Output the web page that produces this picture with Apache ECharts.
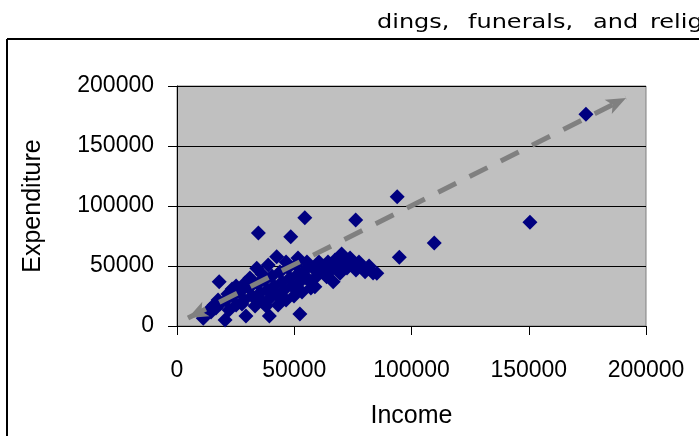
<!DOCTYPE html>
<html>
<head>
<meta charset="utf-8">
<script src="https://cdn.jsdelivr.net/npm/echarts@6/dist/echarts.min.js"></script>
<style>
  html, body { margin: 0; padding: 0; background: #fff; }
  #chart { width: 699px; height: 436px; }
</style>
</head>
<body>
<div id="chart"></div>
<script>
// income / expenditure pairs
const income = [
  174400, 150500, 109700, 93900, 94800, 76200, 34700, 54500, 48500, 18000, 83600,
  11200, 14500, 16600, 20500, 18300, 20900, 22200, 23900, 25200, 26900,
  28600, 29400, 30700, 32000, 33300, 34500, 35400, 36200, 37500, 38400,
  39400, 39700, 40500, 41400, 42200, 43100, 43900, 44800, 45600, 46500,
  47300, 48200, 49000, 49900, 50700, 51600, 52400, 52400, 53300, 54600,
  55400, 56300, 57100, 58000, 58800, 59700, 60500, 61400, 62700, 63800,
  64400, 65700, 66600, 67400, 68700, 69500, 70200, 71200, 72500, 73800,
  75200, 76300, 77600, 78900, 80200, 81900, 85200, 34000, 38900, 42500,
  36200, 31100, 29000, 23500, 21700, 17500, 15800, 14100, 46500, 51600,
  27700, 34500, 38000, 43900, 50700, 55000, 25200
]
const expenditure = [
  176400, 86400, 69200, 107700, 57200, 88300, 77500, 90200, 74400, 36900, 44200,
  6400, 11700, 15000, 5000, 18300, 21700, 13300, 25000, 17500, 28300,
  21700, 8300, 31700, 25000, 16700, 35000, 27500, 20800, 38300, 30000,
  8300, 23300, 41700, 33300, 26700, 17500, 45000, 36700, 30000, 21700,
  48300, 40000, 33300, 25000, 50800, 43300, 36700, 10000, 28300, 46700,
  53300, 38300, 31700, 48300, 32800, 41700, 53300, 46700, 50000, 41100,
  53300, 46700, 36900, 55000, 50000, 43900, 60000, 53300, 48300, 56700,
  50800, 46700, 53300, 49200, 45200, 50000, 43900, 48100, 50800, 57700,
  43300, 40000, 35800, 30800, 26700, 21700, 17500, 14200, 53300, 56700,
  18300, 21700, 16700, 25000, 31700, 40000, 33300
]
const tickLabels = ['0', '50000', '100000', '150000', '200000']
const trendStart = [4700, 6700]
const trendEnd = [191500, 190000]
const headerWords = ['dings,', 'funerals,', 'and', 'relig']

const points = income.map((x, i) => [x, expenditure[i]])
const labelFont = "'Liberation Sans', Arial, sans-serif"

const chart = echarts.init(document.getElementById('chart'), null, { renderer: 'canvas' })

// the header line is cut off in the source, words spread out (justified)
const wordX = [377, 468, 593, 650]
const header = headerWords.map((w, i) => ({
  type: 'text',
  x: wordX[i],
  y: 13,
  scaleX: 1.2,
  style: { text: w, fontSize: 20, fontFamily: "'DejaVu Sans'", fill: '#000' }
}))

chart.setOption({
  backgroundColor: '#fff',
  animation: false,
  graphic: header.concat([
    { type: 'line', shape: { x1: 7, y1: 39, x2: 699, y2: 39 }, style: { stroke: '#000', lineWidth: 2 } },
    { type: 'line', shape: { x1: 7, y1: 39, x2: 7, y2: 436 }, style: { stroke: '#000', lineWidth: 2 } }
  ]),
  grid: {
    left: 177,
    top: 86,
    width: 469,
    height: 240,
    show: true,
    backgroundColor: '#C0C0C0',
    borderColor: '#808080',
    borderWidth: 1
  },
  xAxis: {
    type: 'value',
    min: 0,
    max: 200000,
    interval: 50000,
    name: 'Income',
    nameLocation: 'middle',
    nameGap: 78,
    nameTextStyle: { fontFamily: labelFont, fontSize: 25, color: '#000' },
    axisLine: { show: true, lineStyle: { color: '#000', width: 1 } },
    axisTick: { show: true, length: 9, lineStyle: { color: '#000' } },
    axisLabel: {
      fontFamily: labelFont, fontSize: 23, color: '#000', margin: 33,
      formatter: (v) => tickLabels[v / 50000]
    },
    splitLine: { show: false }
  },
  yAxis: {
    type: 'value',
    min: 0,
    max: 200000,
    interval: 50000,
    name: 'Expenditure',
    nameLocation: 'middle',
    nameRotate: 90,
    nameGap: 131,
    nameTextStyle: { fontFamily: labelFont, fontSize: 25, color: '#000' },
    axisLine: { show: true, lineStyle: { color: '#000', width: 1 } },
    axisTick: { show: true, length: 9, lineStyle: { color: '#000' } },
    axisLabel: {
      fontFamily: labelFont, fontSize: 23, color: '#000', margin: 23,
      formatter: (v) => tickLabels[v / 50000]
    },
    splitLine: { show: true, lineStyle: { color: '#000', width: 1 } }
  },
  series: [{
    type: 'scatter',
    data: points,
    symbol: 'diamond',
    symbolSize: 15,
    itemStyle: { color: '#000080', opacity: 1 },
    markLine: {
      silent: true,
      animation: false,
      symbol: ['arrow', 'arrow'],
      symbolSize: [12, 20],
      label: { show: false },
      lineStyle: { color: '#808080', width: 5, type: [20, 15], opacity: 1 },
      data: [[{ coord: trendStart }, { coord: trendEnd }]]
    }
  }]
})
</script>
</body>
</html>
